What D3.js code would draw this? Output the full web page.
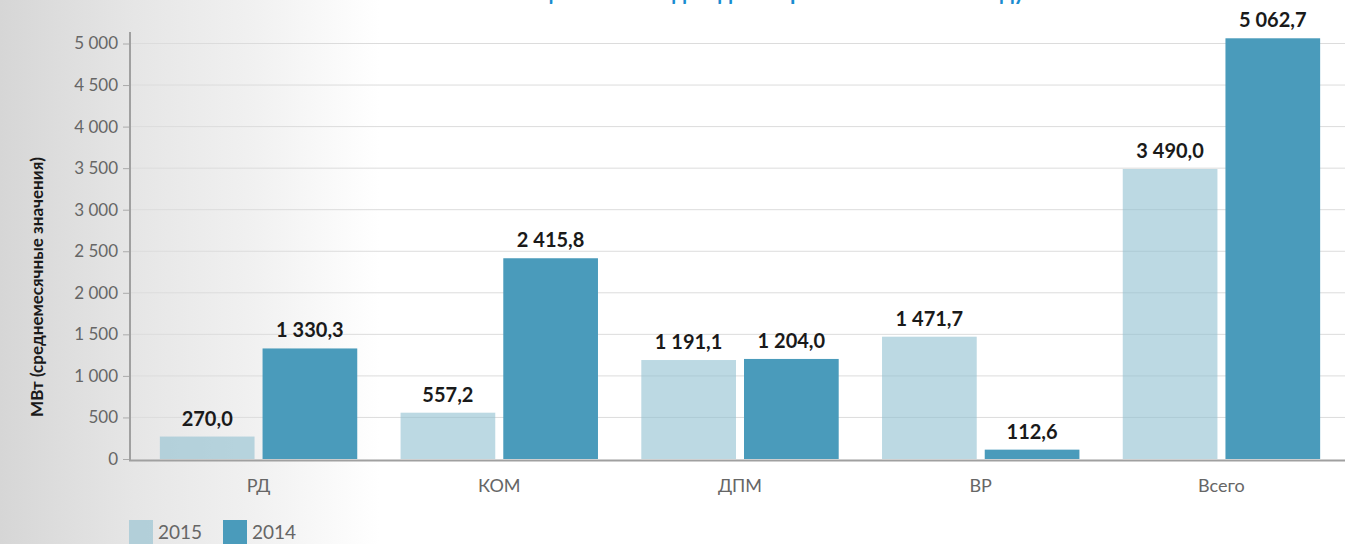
<!DOCTYPE html>
<html><head><meta charset="utf-8">
<script src="https://cdn.jsdelivr.net/npm/d3@7"></script>
<style>
html,body{margin:0;padding:0;background:#fff;}
svg{display:block;font-family:Lato,"Open Sans",sans-serif;}
</style></head>
<body>
<svg id="chart" width="1354" height="544"></svg>
<script>
const titleText = "Объемы поставки мощности по видам договоров в 2014 и 2015 году";
const yAxisTitle = "МВт (среднемесячные значения)";
const categories = ["РД", "КОМ", "ДПМ", "ВР", "Всего"];
const seriesNames = ["2015", "2014"];
const values2015 = [270.0, 557.2, 1191.1, 1471.7, 3490.0];
const values2014 = [1330.3, 2415.8, 1204.0, 112.6, 5062.7];
const yTicks = [0, 500, 1000, 1500, 2000, 2500, 3000, 3500, 4000, 4500, 5000];
const colors = {"2015": "#8fc0d0", "2014": "#4a9bbb"};
const opac = {"2015": 0.6, "2014": 1};

const svg = d3.select("#chart");
const W = 1354, H = 544;

// background gradient
const defs = svg.append("defs");
const grad = defs.append("linearGradient").attr("id","bg").attr("x1","0").attr("x2","1").attr("y1","0").attr("y2","0");
grad.append("stop").attr("offset","0").attr("stop-color","#d6d6d6");
grad.append("stop").attr("offset","0.1").attr("stop-color","#e6e6e6");
grad.append("stop").attr("offset","0.19").attr("stop-color","#f1f1f1");
grad.append("stop").attr("offset","0.28").attr("stop-color","#ffffff");
svg.append("rect").attr("x",0).attr("y",0).attr("width",W).attr("height",H).attr("fill","url(#bg)");

const loc = d3.formatLocale({decimal: ",", thousands: " ", grouping: [3], currency: ["", ""]});
const fmtTick = loc.format(",d");
const fmtVal = loc.format(",.1f");

const x0 = d3.scaleBand().domain(categories).range([130, 1350]).paddingInner(0.18).paddingOuter(0.124);
const x1 = d3.scaleBand().domain(seriesNames).range([0, x0.bandwidth()]).paddingInner(0.078).paddingOuter(0);
const y = d3.scaleLinear().domain([0, 5000]).range([459, 43.5]);

// title (clipped at top, as in the source)
svg.append("text").attr("x", 1025).attr("y", 0).attr("text-anchor","end")
  .attr("font-size", 22).attr("font-weight", 700).attr("fill", "#1a8cd0").text(titleText);

// gridlines
svg.append("g").selectAll("line").data(yTicks.filter(d=>d>0)).join("line")
  .attr("x1", 130).attr("x2", 1345).attr("y1", d=>y(d)).attr("y2", d=>y(d))
  .attr("stroke", "#dcdcdc").attr("stroke-width", 1);

// y axis
const yAxis = svg.append("g").attr("transform","translate(130,0)")
  .call(d3.axisLeft(y).tickValues(yTicks).tickFormat(fmtTick).tickSize(7).tickPadding(5));
yAxis.select(".domain").remove();
yAxis.selectAll(".tick line").attr("stroke","#aaa");
yAxis.selectAll(".tick text").attr("font-size", 17).attr("fill","#666").attr("font-family","Lato").attr("font-weight",400);
svg.append("line").attr("x1",130).attr("x2",130).attr("y1",32).attr("y2",461).attr("stroke","#a0a0a0").attr("stroke-width",2);

// bars
const data = categories.map((c,i)=>({cat:c, vals:[{s:"2015", v:values2015[i]},{s:"2014", v:values2014[i]}]}));
const groups = svg.append("g").selectAll("g").data(data).join("g")
  .attr("transform", d=>`translate(${x0(d.cat)},0)`);
groups.selectAll("rect").data(d=>d.vals).join("rect")
  .attr("x", d=>x1(d.s)).attr("width", x1.bandwidth())
  .attr("y", d=>y(d.v)).attr("height", d=>y(0)-y(d.v))
  .attr("fill", d=>colors[d.s]).attr("fill-opacity", d=>opac[d.s]);
groups.selectAll("text").data(d=>d.vals).join("text")
  .attr("x", d=>x1(d.s)+x1.bandwidth()/2).attr("y", d=>y(d.v)-11)
  .attr("text-anchor","middle").attr("font-size",20).attr("font-weight",700).attr("fill","#1a1a1a")
  .text(d=>fmtVal(d.v));

// x axis
svg.append("line").attr("x1",129).attr("x2",1345).attr("y1",460.5).attr("y2",460.5).attr("stroke","#a0a0a0").attr("stroke-width",2);
svg.append("g").selectAll("text").data(categories).join("text")
  .attr("x", d=>x0(d)+x0.bandwidth()/2).attr("y", 492)
  .attr("text-anchor","middle").attr("font-size",18).attr("fill","#666").text(d=>d);

// y axis title
svg.append("text").attr("transform","translate(43,287) rotate(-90)").attr("text-anchor","middle")
  .attr("font-size",17).attr("font-weight",700).attr("fill","#1a1a1a").text(yAxisTitle);

// legend
const leg = svg.append("g").selectAll("g").data(seriesNames).join("g")
  .attr("transform",(d,i)=>`translate(${129 + i*94},520)`);
leg.append("rect").attr("width",24).attr("height",24).attr("fill",d=>colors[d]).attr("fill-opacity",d=>opac[d]);
leg.append("text").attr("x",29).attr("y",18.5).attr("font-size",19).attr("fill","#666").text(d=>d);
</script>
</body></html>
